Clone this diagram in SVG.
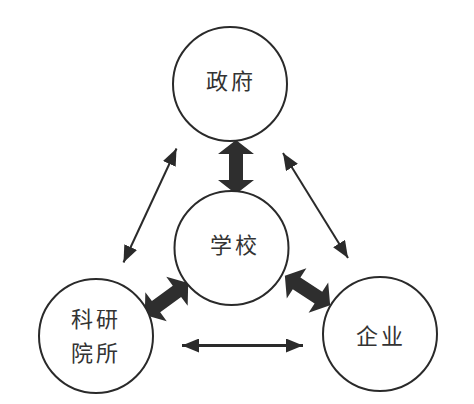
<svg xmlns="http://www.w3.org/2000/svg" width="474" height="404" viewBox="0 0 474 404">
<style>
.node circle{fill:#fff;stroke:#2a2a2a;stroke-width:2}
.node text{font-family:"Noto Sans CJK SC","Noto Sans CJK JP",sans-serif;font-size:22px;fill:#333;text-anchor:middle;letter-spacing:3px}
.thin{stroke:#2a2a2a;stroke-width:2;fill:none}
.thick{fill:#2e2e2e}
</style>
<defs>
<marker id="ah2" viewBox="0 0 10 10" refX="10" refY="5" markerWidth="17" markerHeight="14" orient="auto-start-reverse" markerUnits="userSpaceOnUse" preserveAspectRatio="none">
<path d="M0,0 L10,5 L0,10 z" fill="#2a2a2a"/>
</marker>
<polygon id="dbl" points="-27,0 -13,-18 -13,-7 13,-7 13,-18 27,0 13,18 13,7 -13,7 -13,18"/>
</defs>
<rect width="474" height="404" fill="#fff"/>
<g id="connectors">
<line class="thin" x1="176.5" y1="148.5" x2="123.5" y2="262.5" marker-start="url(#ah2)" marker-end="url(#ah2)"/>
<line class="thin" x1="283" y1="153" x2="348" y2="258" marker-start="url(#ah2)" marker-end="url(#ah2)"/>
<line class="thin" style="stroke-width:3" x1="182" y1="345.5" x2="303" y2="345.5" marker-start="url(#ah2)" marker-end="url(#ah2)"/>
<use href="#dbl" class="thick" transform="translate(236,167) rotate(90)"/>
<use href="#dbl" class="thick" transform="translate(166.5,299) rotate(-36.5)"/>
<use href="#dbl" class="thick" transform="translate(307.5,290.5) rotate(33)"/>
</g>
<g id="gov" class="node">
<circle cx="230" cy="84" r="57"/>
<text x="231" y="89">政府</text>
</g>
<g id="school" class="node">
<circle cx="231.5" cy="248" r="57"/>
<text x="235" y="253">学校</text>
</g>
<g id="research" class="node">
<circle cx="96" cy="336" r="57"/>
<text x="96" y="327">科研</text>
<text x="96" y="361">院所</text>
</g>
<g id="enterprise" class="node">
<circle cx="380" cy="334" r="57"/>
<text x="381" y="344">企业</text>
</g>
</svg>
